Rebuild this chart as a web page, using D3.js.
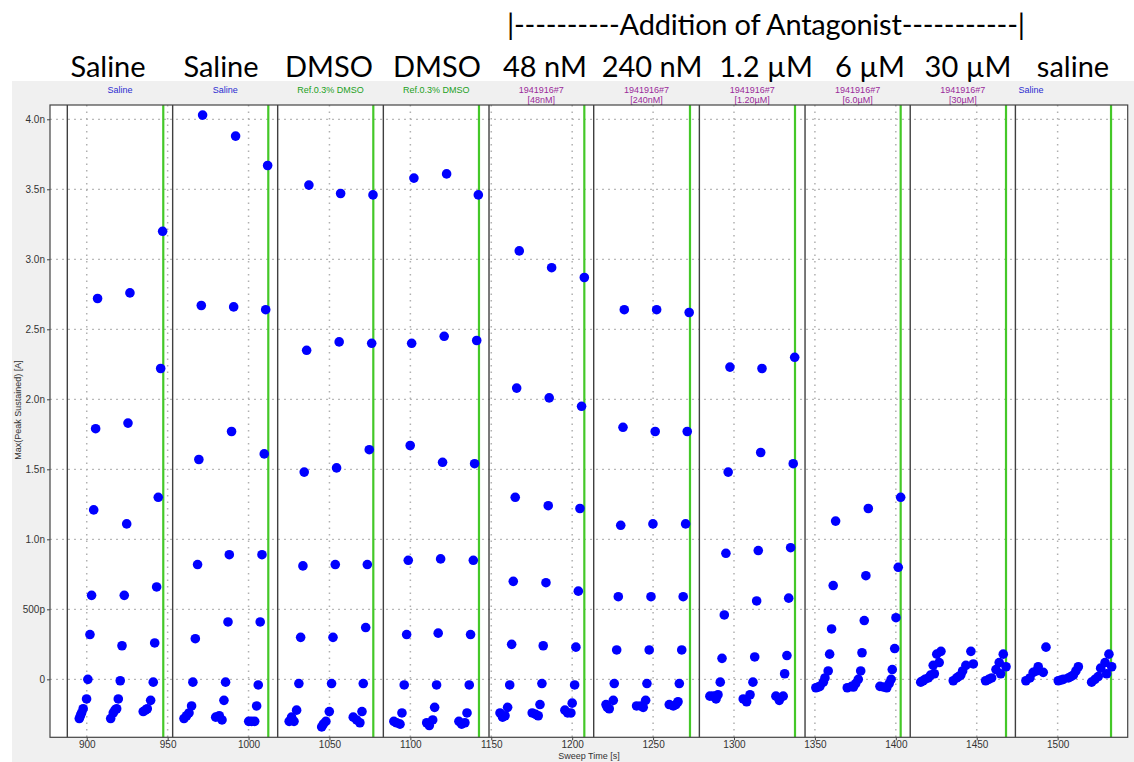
<html>
<head>
<meta charset="utf-8">
<title>Max(Peak Sustained) vs Sweep Time</title>
<style>
    body { margin: 0; background: #fff; }
    svg { display: block; }
    .hdr { font-family: "Lato", "Open Sans", sans-serif; fill: #000; }
    .small { font-family: "Liberation Sans", Arial, sans-serif; }
</style>
</head>
<script src="https://d3js.org/d3.v7.min.js"></script>
<body>
<svg id="chart" width="1134" height="762"></svg>
<script>
// top headers (drug added in each run)
const headerLabels = ["Saline", "Saline", "DMSO", "DMSO", "48 nM", "240 nM", "1.2 \u00b5M", "6 \u00b5M", "30 \u00b5M", "saline"];
const headerCenters = [108, 221, 329, 437, 545, 652, 766, 870, 968, 1073];
const antagonistLine = "|----------Addition of Antagonist-----------|";

// compound labels written by the acquisition software
const segmentLabels = [["Saline"], ["Saline"], ["Ref.0.3% DMSO"], ["Ref.0.3% DMSO"],
    ["1941916#7", "[48nM]"], ["1941916#7", "[240nM]"], ["1941916#7", "[1.20\u00b5M]"],
    ["1941916#7", "[6.0\u00b5M]"], ["1941916#7", "[30\u00b5M]"], ["Saline"]];
const segmentKinds = ["saline", "saline", "dmso", "dmso", "cpd", "cpd", "cpd", "cpd", "cpd", "saline"];

// run boundaries (black) and compound addition markers (green), in s
const segmentStarts = [888.0, 953.1, 1018.0, 1083.3, 1148.6, 1213.3, 1278.6, 1343.9, 1408.9, 1473.9];
const markerTimes = [947.3, 1012.2, 1077.1, 1142.4, 1207.5, 1272.8, 1337.7, 1403.0, 1468.1, 1533.0];

const xTicks = d3.range(900, 1501, 50);
const yTicks = [0, 0.5, 1.0, 1.5, 2.0, 2.5, 3.0, 3.5, 4.0];   // nA

// [sweep time s, current nA]
const salineA = [[906.7,2.72],[905.5,1.79],[904.3,1.21],[903.0,0.60],[902.0,0.32],[900.7,0.00],[899.9,-0.14],[897.8,-0.21],[896.8,-0.24],[896.1,-0.26],[895.4,-0.28],
    [926.7,2.76],[925.5,1.83],[924.7,1.11],[923.2,0.60],[921.8,0.24],[920.7,-0.01],[919.5,-0.14],[918.5,-0.21],[917.4,-0.22],[916.4,-0.24],[914.8,-0.28],
    [946.9,3.20],[945.7,2.22],[944.2,1.30],[943.2,0.66],[942.0,0.26],[941.1,-0.02],[939.5,-0.15],[937.4,-0.21],[936.3,-0.22],[934.9,-0.23]];
const salineB = [[971.6,4.03],[970.8,2.67],[969.3,1.57],[968.5,0.82],[967.1,0.29],[965.6,-0.02],[964.8,-0.19],[963.2,-0.24],[961.7,-0.26],[960.1,-0.28],
    [992.0,3.88],[990.8,2.66],[989.5,1.77],[988.1,0.89],[987.3,0.41],[985.8,-0.02],[984.8,-0.15],[983.6,-0.29],[981.9,-0.26],[979.7,-0.27],
    [1011.8,3.67],[1010.6,2.64],[1009.7,1.61],[1008.3,0.89],[1007.2,0.41],[1006.0,-0.04],[1005.0,-0.19],[1003.8,-0.30],[1001.9,-0.30],[1000.1,-0.30]];
const dmsoA = [[1037.3,3.53],[1035.9,2.35],[1034.4,1.48],[1033.6,0.81],[1032.2,0.30],[1031.1,-0.03],[1029.7,-0.22],[1028.1,-0.30],[1026.6,-0.27],[1025.1,-0.30],
    [1056.9,3.47],[1056.0,2.41],[1054.4,1.51],[1053.6,0.82],[1052.2,0.30],[1051.3,-0.03],[1049.9,-0.23],[1047.8,-0.30],[1046.2,-0.32],[1045.2,-0.34],
    [1076.9,3.46],[1076.1,2.40],[1074.6,1.64],[1073.4,0.82],[1072.4,0.37],[1070.9,-0.03],[1070.1,-0.23],[1068.8,-0.31],[1066.8,-0.29],[1064.7,-0.27]];
const dmsoB = [[1102.2,3.58],[1100.8,2.40],[1099.9,1.67],[1098.7,0.85],[1097.7,0.32],[1096.2,-0.04],[1094.8,-0.24],[1093.6,-0.32],[1091.5,-0.31],[1089.8,-0.30],
    [1122.4,3.61],[1120.9,2.45],[1119.9,1.55],[1118.7,0.86],[1117.2,0.33],[1116.2,-0.04],[1115.0,-0.20],[1113.8,-0.29],[1111.7,-0.33],[1110.1,-0.31],
    [1142.0,3.46],[1141.0,2.42],[1139.7,1.54],[1138.9,0.85],[1137.2,0.32],[1136.4,-0.04],[1135.0,-0.24],[1133.7,-0.31],[1131.7,-0.32],[1130.0,-0.30]];
const ant48nM = [[1167.3,3.06],[1165.7,2.08],[1164.8,1.30],[1163.6,0.70],[1162.6,0.25],[1161.4,-0.04],[1160.1,-0.20],[1158.5,-0.26],[1157.0,-0.27],[1155.4,-0.24],
    [1187.3,2.94],[1185.8,2.01],[1185.2,1.24],[1183.8,0.69],[1182.1,0.24],[1181.3,-0.03],[1180.1,-0.18],[1179.0,-0.26],[1177.4,-0.25],[1175.3,-0.24],
    [1207.5,2.87],[1205.8,1.95],[1204.8,1.22],[1203.8,0.63],[1202.3,0.23],[1201.5,-0.04],[1200.0,-0.17],[1199.2,-0.24],[1197.2,-0.24],[1195.5,-0.22]];
const ant240nM = [[1232.2,2.64],[1231.4,1.80],[1230.0,1.10],[1228.5,0.59],[1227.5,0.21],[1226.0,-0.03],[1225.4,-0.15],[1222.9,-0.21],[1221.7,-0.20],[1220.9,-0.18],
    [1252.2,2.64],[1251.3,1.77],[1249.9,1.11],[1248.7,0.59],[1247.6,0.21],[1246.2,-0.03],[1245.4,-0.15],[1243.9,-0.20],[1242.3,-0.19],[1239.8,-0.19],
    [1272.3,2.62],[1271.1,1.77],[1270.1,1.11],[1268.6,0.59],[1267.7,0.21],[1266.2,-0.03],[1265.4,-0.16],[1264.1,-0.18],[1262.5,-0.19],[1260.0,-0.18]];
const ant1_2uM = [[1297.5,2.23],[1296.4,1.48],[1295.0,0.90],[1294.0,0.46],[1292.6,0.15],[1291.5,-0.02],[1290.1,-0.11],[1288.9,-0.14],[1287.2,-0.12],[1285.1,-0.12],
    [1317.3,2.22],[1316.5,1.62],[1315.0,0.92],[1314.0,0.56],[1312.8,0.16],[1311.7,-0.02],[1309.9,-0.11],[1307.8,-0.16],[1305.7,-0.14],
    [1337.5,2.30],[1336.6,1.54],[1335.0,0.94],[1333.8,0.58],[1332.7,0.17],[1331.3,0.04],[1330.4,-0.12],[1328.0,-0.15],[1325.9,-0.12]];
const ant6uM = [[1362.8,1.13],[1361.3,0.67],[1360.3,0.36],[1359.1,0.18],[1358.2,0.06],[1356.2,0.01],[1355.2,-0.02],[1353.1,-0.05],[1352.0,-0.055],[1350.6,-0.06],
    [1383.0,1.22],[1381.5,0.74],[1380.5,0.42],[1379.1,0.19],[1378.3,0.06],[1376.8,0.00],[1375.2,-0.03],[1373.8,-0.055],[1372.7,-0.05],[1370.0,-0.06],
    [1403.0,1.30],[1401.5,0.80],[1400.1,0.44],[1399.3,0.22],[1397.8,0.07],[1397.1,0.00],[1395.9,-0.03],[1394.4,-0.06],[1392.5,-0.055],[1390.2,-0.05]];
const ant30uM = [[1427.9,0.20],[1426.8,0.12],[1425.3,0.18],[1423.8,0.04],[1423.1,0.10],[1421.5,0.03],[1420.1,0.01],[1418.0,0.00],[1416.8,-0.01],[1415.4,-0.02],
    [1447.9,0.11],[1446.4,0.20],[1443.3,0.10],[1441.3,0.06],[1440.1,0.03],[1438.8,0.02],[1437.6,0.01],[1435.5,-0.01],
    [1468.1,0.09],[1466.4,0.18],[1464.8,0.04],[1463.9,0.12],[1461.9,0.07],[1459.2,0.01],[1457.4,0.00],[1455.5,-0.01]];
const salineWash = [[1492.8,0.23],[1491.1,0.05],[1488.0,0.09],[1487.0,0.06],[1484.9,0.05],[1482.9,0.01],[1480.4,-0.01],
    [1512.8,0.09],[1511.3,0.06],[1509.7,0.03],[1508.2,0.02],[1506.6,0.01],[1503.5,0.00],[1502.0,-0.005],[1500.4,-0.01],
    [1533.4,0.09],[1531.7,0.18],[1530.3,0.04],[1529.3,0.12],[1526.6,0.08],[1525.1,0.02],[1523.1,0.00],[1521.0,-0.02]];

const allRuns = [salineA, salineB, dmsoA, dmsoB, ant48nM, ant240nM, ant1_2uM, ant6uM, ant30uM, salineWash];

const kindColor = { saline: "#2b2bd0", dmso: "#22a022", cpd: "#9a2a9a" };

const svg = d3.select("#chart");
const plot = { left: 50, right: 1127.7, top: 105, bottom: 737.3 };

const x = d3.scaleLinear().domain([877.3, 1543.3]).range([plot.left, plot.right]);
const y = d3.scaleLinear().domain([-0.414, 4.102]).range([plot.bottom, plot.top]);

function fmtY(v) {
    if (v === 0) return "0";
    if (v < 1) return Math.round(v * 1000) + "p";
    return v.toFixed(1) + "n";
}

// grey frame area
svg.append("rect").attr("x", 12).attr("y", 81).attr("width", 1122).attr("height", 681).attr("fill", "#f0f0f0");
svg.append("rect").attr("x", plot.left).attr("y", plot.top)
    .attr("width", plot.right - plot.left).attr("height", plot.bottom - plot.top).attr("fill", "#fff");

// headers
svg.append("text").attr("class", "hdr").attr("x", 507).attr("y", 35)
    .attr("font-size", 29).attr("textLength", 518).attr("lengthAdjust", "spacing")
    .text(antagonistLine);
svg.selectAll(".hdr-lbl").data(headerLabels).enter().append("text")
    .attr("class", "hdr hdr-lbl")
    .attr("x", (d, i) => headerCenters[i]).attr("y", 77)
    .attr("text-anchor", "middle").attr("font-size", 29)
    .text(d => d);

// grid
const grid = svg.append("g");
grid.selectAll(".hg").data(yTicks).enter().append("line")
    .attr("x1", plot.left).attr("x2", plot.right)
    .attr("y1", d => y(d)).attr("y2", d => y(d))
    .attr("stroke", "#a8a8a8").attr("stroke-width", 1).attr("stroke-dasharray", "2,4");
grid.selectAll(".vg").data(xTicks).enter().append("line")
    .attr("x1", d => x(d)).attr("x2", d => x(d))
    .attr("y1", plot.top).attr("y2", plot.bottom)
    .attr("stroke", "#b0b0b0").attr("stroke-width", 1.5).attr("stroke-dasharray", "1.5,5");

// run separators and addition markers
svg.selectAll(".sep").data(segmentStarts).enter().append("line")
    .attr("x1", d => x(d)).attr("x2", d => x(d))
    .attr("y1", plot.top).attr("y2", plot.bottom)
    .attr("stroke", "#404040").attr("stroke-width", 1.4);
svg.selectAll(".mark").data(markerTimes).enter().append("line")
    .attr("x1", d => x(d)).attr("x2", d => x(d))
    .attr("y1", plot.top).attr("y2", plot.bottom)
    .attr("stroke", "#44c828").attr("stroke-width", 2.2);

// compound labels
segmentLabels.forEach((lines, i) => {
    const last = i === segmentLabels.length - 1;
    const x0 = x(segmentStarts[i]);
    const x1 = last ? plot.right : x(segmentStarts[i + 1]);
    const t = svg.append("text").attr("class", "small")
        .attr("font-size", 9).attr("fill", kindColor[segmentKinds[i]])
        .attr("text-anchor", last ? "start" : "middle");
    lines.forEach((ln, j) => {
        t.append("tspan").attr("x", last ? x0 + 3 : (x0 + x1) / 2).attr("y", 93 + j * 9.5).text(ln);
    });
});

// dots
const dots = svg.append("g");
allRuns.forEach(run => {
    dots.selectAll(null).data(run).enter().append("circle")
        .attr("cx", d => x(d[0])).attr("cy", d => y(d[1]))
        .attr("r", 4.8).attr("fill", "#0000ff");
});

// frame
svg.append("rect").attr("x", plot.left).attr("y", plot.top)
    .attr("width", plot.right - plot.left).attr("height", plot.bottom - plot.top)
    .attr("fill", "none").attr("stroke", "#444").attr("stroke-width", 1.2);

// axes
const yAxis = svg.append("g").attr("transform", `translate(${plot.left},0)`)
    .call(d3.axisLeft(y).tickValues(yTicks).tickFormat(fmtY).tickSize(3).tickPadding(2));
const xAxis = svg.append("g").attr("transform", `translate(0,${plot.bottom})`)
    .call(d3.axisBottom(x).tickValues(xTicks).tickFormat(d3.format("d")).tickSize(3).tickPadding(1));
[yAxis, xAxis].forEach(a => {
    a.select(".domain").remove();
    a.selectAll("line").attr("stroke", "#444");
    a.selectAll("text").attr("font-family", "Liberation Sans, Arial, sans-serif")
        .attr("font-size", 10).attr("fill", "#333");
});

svg.append("text").attr("class", "small").attr("font-size", 9).attr("fill", "#333")
    .attr("transform", "translate(21,410) rotate(-90)").attr("text-anchor", "middle")
    .text("Max(Peak Sustained) [A]");
svg.append("text").attr("class", "small").attr("font-size", 9).attr("fill", "#333")
    .attr("x", 589).attr("y", 759).attr("text-anchor", "middle")
    .text("Sweep Time [s]");
</script>
</body>
</html>
